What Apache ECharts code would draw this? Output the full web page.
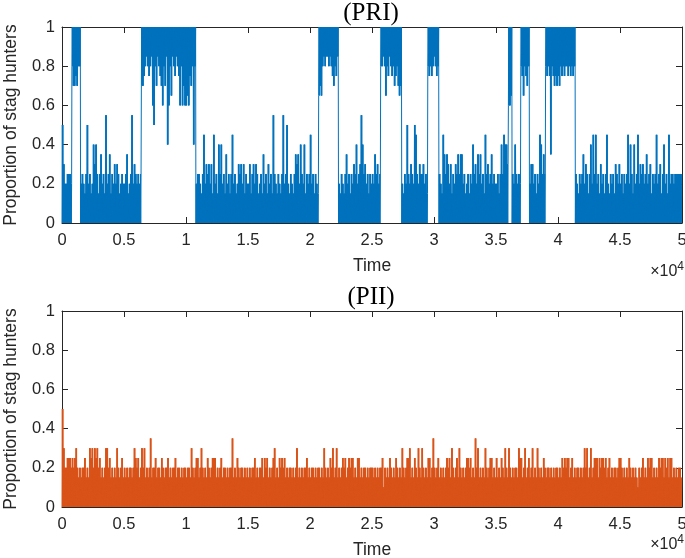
<!DOCTYPE html>
<html><head><meta charset="utf-8">
<script src="https://cdn.jsdelivr.net/npm/echarts@6/dist/echarts.min.js"></script>
<style>html,body{margin:0;padding:0;background:#fff}#c{width:685px;height:558px}</style>
</head><body><div id="c"></div>
<script>
// Time axis (0 .. 5x10^4), tick labels shown in units of 10^4
const timeMax = 50000;
const timeStep = 5000;
const xTickLabels = ['0','0.5','1','1.5','2','2.5','3','3.5','4','4.5','5'];
const yTickLabels = ['0','0.2','0.4','0.6','0.8','1'];
const titles = ['(PRI)', '(PII)'];
const xName = 'Time';
const yName = 'Proportion of stag hunters';

// Level codes (proportion = index / 20).
// LOW chars: the series oscillates between 0 and the level (low-stag regime)
// HIGH chars: the series oscillates between the level and 1 (high-stag regime)
const LOW  = "0123456789abcdefghijk";
const HIGH = "ABCDEFGHIJKLMNOPQRSTU";

// Each row covers 5000 time units, one char per 100 time units
const priRows = [
  "a6445554QOOPOQQ45435a45348685357453b45735464653454",
  "457345b4654545OOPQRQPQRMKQORQPOMQORIMQNRQPRQPMQMOM",
  "MNMPOQIQ455435946564639453858453745359453465646354",
  "46356465345374536453b5435435b45a435435767485483545",
  "9453543NONQRQRRQRQPOQPR435435745354658456b85645354",
  "5475645QQRQNQPRQPQOPQONO4354a54654a9546556453QPQPQ",
  "RQPQ5439757646354657577453453548564757453956457454",
  "4535859886MMN5485454QPNQPOQ4664535498575QPQPHQPOPO",
  "POQPQPQQPQPQPQ543545746535849594536453594354536546",
  "45354594853845946564574563545945635845394554555555"
];
const piiRows = [
  "a6445554545643434453436564656453434664534343643453",
  "43434434654534646343473445344354344534344534434344",
  "34436434553464343543455534345344343447343543443434",
  "34344534344535453434563435454534344343463434344534",
  "34434344343643435463463434545345455343553434434344",
  "43434344524343543435434364345563435436436434355347",
  "43453434345453643453643434554534374634343643455343",
  "53435436436434344365534634534634364343543443434344",
  "34354545534534344343464634634555354554534534344345",
  "54343435434343243453435455343435455354535534343443"
];

function build(rows){
  const pts = [];
  const rowSpan = timeMax / rows.length;
  rows.forEach((row, r) => {
    const w = rowSpan / row.length;
    for (let i = 0; i < row.length; i++) {
      const c = row[i];
      const t0 = r * rowSpan + i * w;
      let k = LOW.indexOf(c), lo, hi;
      if (k >= 0) { lo = 0; hi = k / 20; }
      else { k = HIGH.indexOf(c); lo = k / 20; hi = 1; }
      pts.push([t0, lo], [t0 + w * 0.25, hi], [t0 + w * 0.5, lo], [t0 + w * 0.75, hi]);
    }
  });
  return pts;
}

const AX = '#262626';
const FONT = 'Liberation Sans, Arial, sans-serif';
const grids = [
  {left: 62, top: 27, width: 620, height: 196, outerBoundsMode: 'none', containLabel: false},
  {left: 62, top: 311, width: 620, height: 196, outerBoundsMode: 'none', containLabel: false}
];

function xAxes(gi){
  const base = {
    type: 'value', gridIndex: gi, min: 0, max: timeMax, interval: timeStep,
    axisLine: {show: true, onZero: false, lineStyle: {color: AX, width: 1}},
    axisTick: {show: true, inside: true, length: 6, lineStyle: {color: AX, width: 1}},
    splitLine: {show: false}
  };
  return [
    Object.assign({}, base, {
      position: 'bottom',
      axisLabel: {show: true, margin: 9, color: '#262626', fontSize: 16.5, fontFamily: FONT,
        formatter: v => xTickLabels[Math.round(v / timeStep)]},
      name: xName, nameLocation: 'middle', nameGap: 34,
      nameTextStyle: {color: '#262626', fontSize: 17.5, fontFamily: FONT}
    }),
    Object.assign({}, base, {position: 'top', axisLabel: {show: false}})
  ];
}
function yAxes(gi){
  const base = {
    type: 'value', gridIndex: gi, min: 0, max: 1, interval: 0.2,
    axisLine: {show: true, onZero: false, lineStyle: {color: AX, width: 1}},
    axisTick: {show: true, inside: true, length: 6, lineStyle: {color: AX, width: 1}},
    splitLine: {show: false}
  };
  return [
    Object.assign({}, base, {
      position: 'left',
      axisLabel: {show: true, margin: 7, color: '#262626', fontSize: 16.5, fontFamily: FONT,
        formatter: v => yTickLabels[Math.round(v / 0.2)]},
      name: yName, nameLocation: 'middle', nameGap: 42, nameRotate: 90,
      nameTextStyle: {color: '#262626', fontSize: 17.5, fontFamily: FONT}
    }),
    Object.assign({}, base, {position: 'right', axisLabel: {show: false}})
  ];
}

const chart = echarts.init(document.getElementById('c'), null, {renderer: 'canvas'});
chart.setOption({
  animation: false,
  backgroundColor: '#fff',
  grid: grids,
  xAxis: [...xAxes(0), ...xAxes(1)],
  yAxis: [...yAxes(0), ...yAxes(1)],
  series: [
    {type: 'line', xAxisIndex: 0, yAxisIndex: 0, data: build(priRows), symbol: 'none',
      showSymbol: false, sampling: false, lineStyle: {color: '#0072BD', width: 1}, silent: true, z: 1},
    {type: 'line', xAxisIndex: 2, yAxisIndex: 2, data: build(piiRows), symbol: 'none',
      showSymbol: false, sampling: false, lineStyle: {color: '#D95319', width: 1}, silent: true, z: 1}
  ],
  graphic: [
    {type: 'text', x: 371, y: 13, style: {text: titles[0], font: '25px "Liberation Serif", serif', fill: '#000', align: 'center', verticalAlign: 'middle'}},
    {type: 'text', x: 371, y: 297, style: {text: titles[1], font: '25px "Liberation Serif", serif', fill: '#000', align: 'center', verticalAlign: 'middle'}},
    {type: 'text', x: 684, y: 272, style: {text: '×10{s|4}', align: 'right', verticalAlign: 'middle', fill: '#262626', font: '16px ' + FONT,
      rich: {s: {fontSize: 12, fontFamily: FONT, fill: '#262626', verticalAlign: 'top', padding: [0,0,10,0]}}}},
    {type: 'text', x: 684, y: 556, style: {text: '×10{s|4}', align: 'right', verticalAlign: 'bottom', fill: '#262626', font: '16px ' + FONT,
      rich: {s: {fontSize: 12, fontFamily: FONT, fill: '#262626', verticalAlign: 'top', padding: [0,0,10,0]}}}}
  ]
});
</script></body></html>
